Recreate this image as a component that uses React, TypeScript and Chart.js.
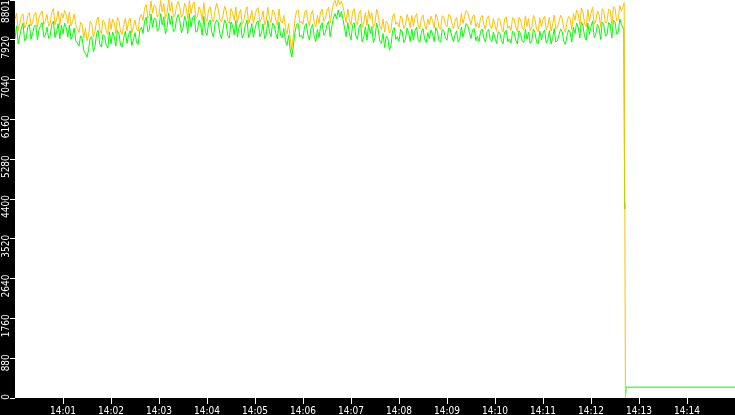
import { useEffect, useRef } from "react";
import { Chart, registerables } from "chart.js";

Chart.register(...registerables);

// seconds after 14:00:00 for the x axis ticks
const xTickSeconds = [60, 120, 180, 240, 300, 360, 420, 480, 540, 600, 660, 720, 780, 840];
const xTickLabels = ["14:01", "14:02", "14:03", "14:04", "14:05", "14:06", "14:07", "14:08", "14:09", "14:10", "14:11", "14:12", "14:13", "14:14"];

const yTickValues = [0, 880.1, 1760.2, 2640.3, 3520.4, 4400.5, 5280.6, 6160.7, 7040.8, 7920.9, 8801];
const yTickLabels = ["0", "880", "1760", "2640", "3520", "4400", "5280", "6160", "7040", "7920", "8801"];

// one sample every 2 s from 14:00:00 to 14:12:38
const orangeValues = [
  8380, 8510, 8120, 8290, 8440, 8490, 8180, 8250, 8460, 8520,
  8230, 8300, 8470, 8530, 8200, 8410, 8500, 8560, 8260, 8340,
  8480, 8220, 8290, 8530, 8610, 8250, 8380, 8560, 8240, 8510,
  8400, 8570, 8480, 8280, 8540, 8230, 8330, 8490, 8250, 8160,
  8080, 8310, 8250, 7960, 8180, 7900, 8020, 8330, 8260, 7980,
  8100, 8350, 8420, 8140, 8050, 8360, 8300, 8120, 8040, 8400,
  8150, 8380, 8300, 8060, 8420, 8340, 8090, 8040, 8260, 8390,
  8120, 8330, 8400, 8070, 8210, 8360, 8150, 8110, 8420, 8480,
  8350, 8620, 8700, 8400, 8460, 8780, 8510, 8690, 8660, 8420,
  8480, 8790, 8540, 8720, 8390, 8500, 8800, 8560, 8750, 8430,
  8450, 8680, 8770, 8640, 8420, 8490, 8730, 8620, 8380, 8790,
  8500, 8700, 8760, 8410, 8430, 8650, 8560, 8350, 8740, 8400,
  8330, 8590, 8650, 8400, 8310, 8560, 8730, 8600, 8380, 8320,
  8460, 8660, 8570, 8330, 8280, 8610, 8520, 8350, 8650, 8300,
  8480, 8590, 8260, 8350, 8540, 8650, 8280, 8390, 8570, 8290,
  8450, 8600, 8630, 8310, 8380, 8560, 8250, 8340, 8640, 8400,
  8300, 8580, 8530, 8370, 8240, 8600, 8330, 8290, 8460, 8200,
  8050, 8280, 7950, 7690, 8030, 8380, 8560, 8580, 8300, 8330,
  8260, 8520, 8580, 8350, 8230, 8480, 8570, 8310, 8200, 8460,
  8280, 8540, 8600, 8330, 8390, 8560, 8640, 8300, 8530, 8720,
  8790, 8660, 8800, 8700, 8780, 8650, 8480, 8300, 8600, 8360,
  8240, 8550, 8610, 8330, 8250, 8500, 8580, 8190, 8300, 8520,
  8230, 8570, 8380, 8520, 8180, 8290, 8600, 8470, 8210, 8150,
  8380, 8090, 8330, 8290, 8070, 8140, 8440, 8500, 8260, 8310,
  8200, 8450, 8400, 8170, 8240, 8480, 8380, 8190, 8460, 8220,
  8420, 8500, 8230, 8160, 8400, 8470, 8250, 8150, 8380, 8260,
  8440, 8350, 8180, 8490, 8410, 8200, 8150, 8450, 8420, 8260,
  8210, 8480, 8460, 8300, 8170, 8330, 8420, 8160, 8240, 8500,
  8280, 8430, 8570, 8520, 8380, 8250, 8440, 8470, 8200, 8300,
  8180, 8410, 8460, 8260, 8150, 8400, 8450, 8230, 8170, 8390,
  8240, 8110, 8400, 8370, 8190, 8090, 8380, 8430, 8170, 8230,
  8130, 8410, 8380, 8200, 8100, 8420, 8360, 8180, 8140, 8450,
  8220, 8390, 8120, 8200, 8460, 8370, 8150, 8100, 8410, 8210,
  8370, 8440, 8140, 8230, 8420, 8110, 8250, 8470, 8160, 8190,
  8330, 8460, 8400, 8170, 8090, 8310, 8440, 8380, 8150, 8500,
  8350, 8580, 8500, 8240, 8620, 8530, 8280, 8200, 8590, 8330,
  8510, 8640, 8260, 8340, 8560, 8480, 8210, 8610, 8550, 8290,
  8320, 8600, 8570, 8250, 8650, 8620, 8340, 8380, 8680, 8560,
];

const greenValues = [
  7950, 8230, 7830, 8010, 8180, 8290, 7900, 7940, 8200, 8260,
  7930, 8060, 8210, 8250, 7920, 8150, 8240, 8300, 7980, 8020,
  8200, 7950, 8010, 8260, 8330, 7970, 8100, 8280, 7940, 8240,
  8050, 8290, 8190, 7980, 8250, 7930, 8010, 8180, 7900, 7850,
  7780, 8010, 7950, 7680, 7620, 7540, 7700, 7960, 7990, 7660,
  7770, 8060, 8130, 7820, 7760, 8040, 8000, 7800, 7740, 8100,
  7830, 8090, 7990, 7780, 8130, 8050, 7800, 7760, 7970, 8110,
  7840, 8040, 8120, 7790, 7920, 8080, 7860, 7820, 8130, 8200,
  8060, 8330, 8420, 8100, 8150, 8490, 8200, 8400, 8380, 8110,
  8180, 8500, 8250, 8430, 8050, 8190, 8510, 8260, 8450, 8100,
  8150, 8390, 8480, 8350, 8080, 8180, 8440, 8330, 8060, 8500,
  8200, 8410, 8460, 8090, 8110, 8350, 8260, 8020, 8440, 8090,
  8020, 8300, 8360, 8090, 7980, 8270, 8360, 8310, 8060, 7950,
  8160, 8360, 8280, 8010, 7960, 8320, 8230, 8030, 8350, 7980,
  8190, 8300, 7960, 8040, 8250, 8360, 7970, 8080, 8280, 7980,
  8160, 8310, 8340, 7990, 8070, 8270, 7950, 8030, 8350, 8100,
  7990, 8290, 8240, 8060, 7940, 8310, 8020, 7970, 8170, 7900,
  7800, 8020, 7700, 7540, 7790, 8090, 8260, 8280, 7990, 8020,
  7950, 8220, 8280, 8040, 7910, 8180, 8260, 8000, 7880, 8150,
  7970, 8230, 8300, 8020, 8080, 8250, 8330, 7990, 8220, 8400,
  8500, 8380, 8580, 8420, 8550, 8370, 8180, 7990, 8300, 8050,
  7920, 8240, 8300, 8010, 7930, 8190, 8270, 7870, 7990, 8210,
  7910, 8260, 8060, 8210, 7860, 7970, 8290, 8150, 7890, 7840,
  8060, 7750, 8000, 7960, 7690, 7800, 8120, 8190, 7930, 7990,
  7890, 8150, 8100, 7860, 7930, 8180, 8080, 7880, 8160, 7910,
  8120, 8200, 7920, 7870, 8090, 8170, 7940, 7860, 8080, 7950,
  8140, 8050, 7880, 8190, 8110, 7900, 7870, 8150, 8120, 7960,
  7910, 8180, 8160, 8000, 7880, 8030, 8120, 7870, 7940, 8200,
  7980, 8130, 8280, 8230, 8080, 7950, 8140, 8170, 7900, 8000,
  7880, 8110, 8160, 7960, 7870, 8100, 8150, 7930, 7880, 8090,
  7950, 7840, 8100, 8070, 7900, 7830, 8090, 8130, 7880, 7940,
  7850, 8110, 8080, 7910, 7830, 8120, 8060, 7890, 7860, 8150,
  7930, 8090, 7840, 7900, 8160, 8070, 7870, 7830, 8110, 7920,
  8070, 8140, 7850, 7930, 8120, 7830, 7950, 8170, 7870, 7900,
  8030, 8160, 8100, 7880, 7820, 8010, 8140, 8080, 7870, 8200,
  8060, 8290, 8200, 7960, 8320, 8230, 7990, 7910, 8290, 8040,
  8210, 8340, 7970, 8050, 8260, 8180, 7930, 8310, 8250, 8000,
  8030, 8300, 8270, 7960, 8350, 8320, 8050, 8080, 8380, 8260,
];

// the collapse at ~14:12:41 and what follows: [seconds, value]; null = no sample
const orangeTail = [[760, 8650], [761.5, 8740], [763, 0]];
const greenTail = [[761, 8150], [762, 4330], [762.1, 4180], [762.5, null], [763.6, 110], [763.8, 240], [900, 240]];

const sampleStep = 2;

const axisFont = { family: "'DejaVu Sans Condensed', 'DejaVu Sans', sans-serif", size: 10 };

const toPoints = (values: number[], tail: (number | null)[][]) => [
  ...values.map((v, i) => ({ x: i * sampleStep, y: v })),
  ...tail.map(([x, y]) => ({ x: x as number, y })),
];

const noPadding = (s: any) => {
  s.paddingTop = 0;
  s.paddingBottom = 0;
  s.paddingLeft = 0;
  s.paddingRight = 0;
};

const backdrop = {
  id: "backdrop",
  beforeDraw(chart: any) {
    const { ctx, width, height, chartArea } = chart;
    ctx.save();
    ctx.fillStyle = "#000";
    ctx.fillRect(0, 0, width, height);
    ctx.fillStyle = "#fff";
    ctx.fillRect(chartArea.left, chartArea.top, chartArea.right - chartArea.left, chartArea.bottom - chartArea.top);
    ctx.restore();
    // keep the rotated y labels inside the canvas
    const items = chart.scales.y.getLabelItems();
    items.forEach((item: any) => {
      const [tx, ty] = item.options.translation;
      item.options.translation = [tx, Math.max(ty, 0)];
    });
  },
};

const App = () => {
  const canvasRef = useRef<HTMLCanvasElement>(null);

  useEffect(() => {
    if (!canvasRef.current) return;
    const chart = new Chart(canvasRef.current, {
      type: "line",
      data: {
        datasets: [
          {
            label: "orange",
            data: toPoints(orangeValues, orangeTail),
            borderColor: "#ffc000",
            borderWidth: 1,
            pointRadius: 0,
            tension: 0,
          },
          {
            label: "green",
            data: toPoints(greenValues, greenTail),
            borderColor: "#00ff00",
            borderWidth: 1,
            pointRadius: 0,
            tension: 0,
            spanGaps: false,
          },
        ],
      },
      options: {
        animation: false,
        responsive: false,
        devicePixelRatio: 1,
        events: [],
        layout: { padding: 0 },
        plugins: { legend: { display: false }, tooltip: { enabled: false } },
        scales: {
          x: {
            type: "linear",
            min: 0,
            max: 900,
            afterBuildTicks: (s: any) => {
              s.ticks = xTickSeconds.map((value) => ({ value }));
            },
            afterFit: (s: any) => {
              s.height = 17;
              noPadding(s);
            },
            ticks: {
              color: "#fff",
              font: axisFont,
              padding: 1,
              maxRotation: 0,
              autoSkip: false,
              callback: (_v: any, i: number) => xTickLabels[i],
            },
            grid: { drawOnChartArea: false, tickLength: 6, tickColor: "#fff" },
            border: { display: false },
          },
          y: {
            min: 0,
            max: 8801,
            afterBuildTicks: (s: any) => {
              s.ticks = yTickValues.map((value) => ({ value }));
            },
            afterFit: (s: any) => {
              s.width = 15;
              noPadding(s);
            },
            ticks: {
              color: "#fff",
              font: axisFont,
              padding: 4,
              minRotation: 90,
              maxRotation: 90,
              labelOffset: -4,
              autoSkip: false,
              callback: (_v: any, i: number) => yTickLabels[i],
            },
            grid: { drawOnChartArea: false, tickLength: 5, tickColor: "#fff" },
            border: { display: false },
          },
        },
      },
      plugins: [backdrop],
    });
    return () => chart.destroy();
  }, []);

  return (
    <div style={{ position: "absolute", left: 0, top: 0, width: 735, height: 415 }}>
      <canvas ref={canvasRef} width={735} height={415} style={{ display: "block" }} />
    </div>
  );
};

export default App;
